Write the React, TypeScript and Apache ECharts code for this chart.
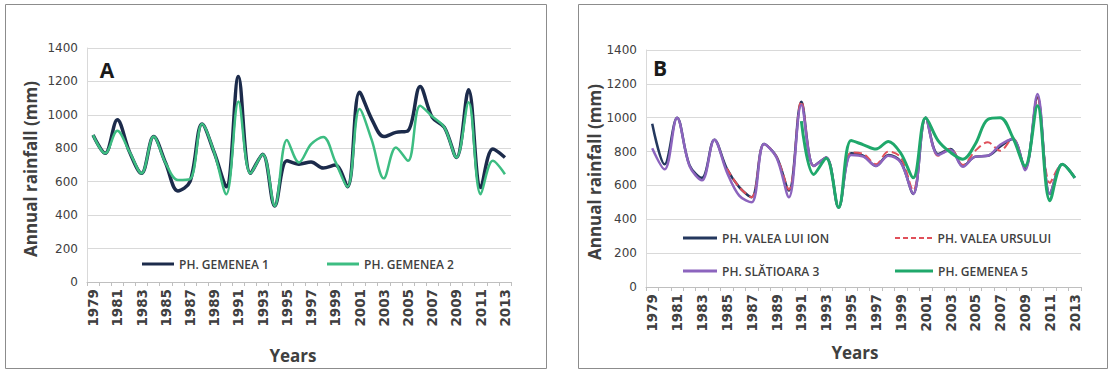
import React, { useEffect, useRef } from "react";
import * as echarts from "echarts";

const years = [
  "1979", "1980", "1981", "1982", "1983", "1984", "1985", "1986", "1987", "1988",
  "1989", "1990", "1991", "1992", "1993", "1994", "1995", "1996", "1997", "1998",
  "1999", "2000", "2001", "2002", "2003", "2004", "2005", "2006", "2007", "2008",
  "2009", "2010", "2011", "2012", "2013",
];

const yTicks = [0, 200, 400, 600, 800, 1000, 1200, 1400];

// Panel A
const gemenea1 = [880, 770, 970, 780, 650, 870, 710, 545, 600, 945, 775, 570, 1230, 650, 765, 455, 725, 705, 718, 682, 700, 570, 1135, 975, 870, 895, 905, 1170, 985, 925, 745, 1150, 565, 795, 745];
const gemenea2 = [880, 770, 905, 780, 650, 870, 710, 610, 615, 945, 775, 525, 1080, 650, 765, 455, 850, 715, 825, 868, 720, 570, 1035, 850, 620, 805, 725, 1055, 990, 925, 745, 1075, 525, 725, 645];

// Panel B
const valeaLuiIon = [965, 725, 1000, 720, 645, 870, 700, 590, 530, 845, 770, 570, 1095, 715, 765, 470, 790, 775, 715, 780, 740, 550, 1000, 785, 815, 715, 770, 775, 830, 875, 700, 1120, 550, 725, 645];
const valeaUrsului = [null, null, null, null, null, null, 700, 590, 530, 845, 770, 575, 1095, 715, 765, 470, 795, 785, 725, 800, 765, 570, 1000, 775, 815, 720, 805, 855, 805, 880, 700, 1120, 615, 725, 645];
const slatioara3 = [820, 695, 1000, 715, 630, 870, 680, 540, 500, 845, 765, 530, 1075, 715, 765, 470, 780, 770, 715, 775, 735, 550, 1000, 780, 810, 710, 770, 775, 840, 875, 690, 1140, 550, 725, 645];
const gemenea5 = [null, null, null, null, null, null, null, null, null, null, null, null, 980, 665, 760, 470, 865, 840, 815, 860, 790, 645, 1000, 865, 795, 755, 845, 990, 1000, 885, 715, 1070, 510, 725, 645];

const names = {
  g1: "PH. GEMENEA 1",
  g2: "PH. GEMENEA 2",
  vli: "PH. VALEA LUI ION",
  vu: "PH. VALEA URSULUI",
  s3: "PH. SLĂTIOARA 3",
  g5: "PH. GEMENEA 5",
};

const TEXT = "#404040";
const GRID = "#D9D9D9";

const DASH_ICON = "path://M0,0h5v2h-5z M8,0h5v2h-5z M16,0h5v2h-5z M24,0h5v2h-5z M32,0h5v2h-5z";

function xAxis(gridIndex: number) {
  return {
    type: "category",
    gridIndex,
    data: years,
    boundaryGap: true,
    axisLine: { show: true, lineStyle: { color: "#BFBFBF", width: 1 } },
    axisTick: { show: true, interval: 0, length: 4, lineStyle: { color: "#BFBFBF" } },
    axisLabel: {
      interval: 1,
      rotate: 90,
      margin: 7,
      fontFamily: "DejaVu Sans",
      fontWeight: "bold",
      fontSize: 13.5,
      color: TEXT,
    },
    splitLine: { show: false },
  };
}

function yAxis(gridIndex: number) {
  return {
    type: "value",
    gridIndex,
    min: yTicks[0],
    max: yTicks[yTicks.length - 1],
    interval: yTicks[1] - yTicks[0],
    axisLine: { show: true, lineStyle: { color: GRID } },
    axisTick: { show: false },
    axisLabel: {
      margin: 9,
      fontFamily: "DejaVu Sans",
      fontSize: 12,
      color: TEXT,
      formatter: (v: number) => String(v),
    },
    splitLine: { show: true, lineStyle: { color: GRID, width: 1 } },
  };
}

function legend(name: string, left: number, centerY: number, itemWidth: number, icon: string, itemHeight: number) {
  return {
    data: [{ name, icon }],
    left,
    top: centerY - 7,
    orient: "horizontal",
    padding: 0,
    itemWidth,
    itemHeight,
    selectedMode: false,
    textStyle: { fontFamily: "Open Sans", fontWeight: 600, fontSize: 12, color: TEXT, lineHeight: 14 },
  };
}

function line(name: string, data: (number | null)[], idx: number, color: string, width: number, type = "solid", z = 2) {
  return {
    name,
    type: "line",
    xAxisIndex: idx,
    yAxisIndex: idx,
    data,
    smooth: 0.35,
    symbol: "none",
    connectNulls: false,
    z,
    lineStyle: { color, width, type },
    itemStyle: { color },
  };
}

const option = {
  animation: false,
  backgroundColor: "#ffffff",
  grid: [
    { left: 87, top: 48, width: 424, height: 234, containLabel: false },
    { left: 646, top: 50, width: 435, height: 237, containLabel: false },
  ],
  xAxis: [xAxis(0), xAxis(1)],
  yAxis: [yAxis(0), yAxis(1)],
  legend: [
    legend(names.g1, 142, 264, 32, "rect", 3),
    legend(names.g2, 327, 264, 32, "rect", 3),
    legend(names.vli, 683, 238, 34, "rect", 3),
    legend(names.vu, 895, 238, 38, DASH_ICON, 2),
    legend(names.s3, 683, 271, 34, "rect", 3),
    legend(names.g5, 895, 271, 38, "rect", 3),
  ],
  series: [
    line(names.g1, gemenea1, 0, "#1C2B4B", 3.5, "solid", 2),
    line(names.g2, gemenea2, 0, "#3DBD82", 2.5, "solid", 3),
    line(names.vli, valeaLuiIon, 1, "#24385E", 2.5, "solid", 2),
    line(names.vu, valeaUrsului, 1, "#E0505A", 2, "dashed", 3),
    line(names.s3, slatioara3, 1, "#8C64BE", 2.5, "solid", 4),
    line(names.g5, gemenea5, 1, "#1FA86B", 3, "solid", 5),
  ],
  graphic: [
    { type: "rect", shape: { x: 5.5, y: 4.5, width: 541, height: 364 }, style: { fill: "none", stroke: "#8C8C8C", lineWidth: 1 }, silent: true },
    { type: "rect", shape: { x: 578.5, y: 4.5, width: 529, height: 364 }, style: { fill: "none", stroke: "#8C8C8C", lineWidth: 1 }, silent: true },
    { type: "text", x: 107, y: 70, style: { text: "A", fontFamily: "Open Sans", fontWeight: "bold", fontSize: 21, fill: "#1a1a1a", align: "center", verticalAlign: "middle", textAlign: "center", textVerticalAlign: "middle" } },
    { type: "text", x: 660, y: 68, style: { text: "B", fontFamily: "Open Sans", fontWeight: "bold", fontSize: 21, fill: "#1a1a1a", align: "center", verticalAlign: "middle", textAlign: "center", textVerticalAlign: "middle" } },
    { type: "text", x: 30, y: 169, rotation: Math.PI / 2, style: { text: "Annual rainfall (mm)", fontFamily: "Open Sans", fontWeight: "bold", fontSize: 17, fill: TEXT, align: "center", verticalAlign: "middle", textAlign: "center", textVerticalAlign: "middle" } },
    { type: "text", x: 594, y: 172, rotation: Math.PI / 2, style: { text: "Annual rainfall (mm)", fontFamily: "Open Sans", fontWeight: "bold", fontSize: 17, fill: TEXT, align: "center", verticalAlign: "middle", textAlign: "center", textVerticalAlign: "middle" } },
    { type: "text", x: 293, y: 355, style: { text: "Years", fontFamily: "Open Sans", fontWeight: "bold", fontSize: 17, fill: TEXT, align: "center", verticalAlign: "middle", textAlign: "center", textVerticalAlign: "middle" } },
    { type: "text", x: 855, y: 352, style: { text: "Years", fontFamily: "Open Sans", fontWeight: "bold", fontSize: 17, fill: TEXT, align: "center", verticalAlign: "middle", textAlign: "center", textVerticalAlign: "middle" } },
  ],
};

export default function App() {
  const ref = useRef<HTMLDivElement>(null);
  useEffect(() => {
    if (!ref.current) return;
    const chart = echarts.init(ref.current, null, { renderer: "svg" });
    chart.setOption(option as any);
    return () => chart.dispose();
  }, []);
  return (
    <div
      ref={ref}
      style={{ position: "fixed", left: 0, top: 0, width: 1110, height: 377, background: "#ffffff" }}
    />
  );
}
